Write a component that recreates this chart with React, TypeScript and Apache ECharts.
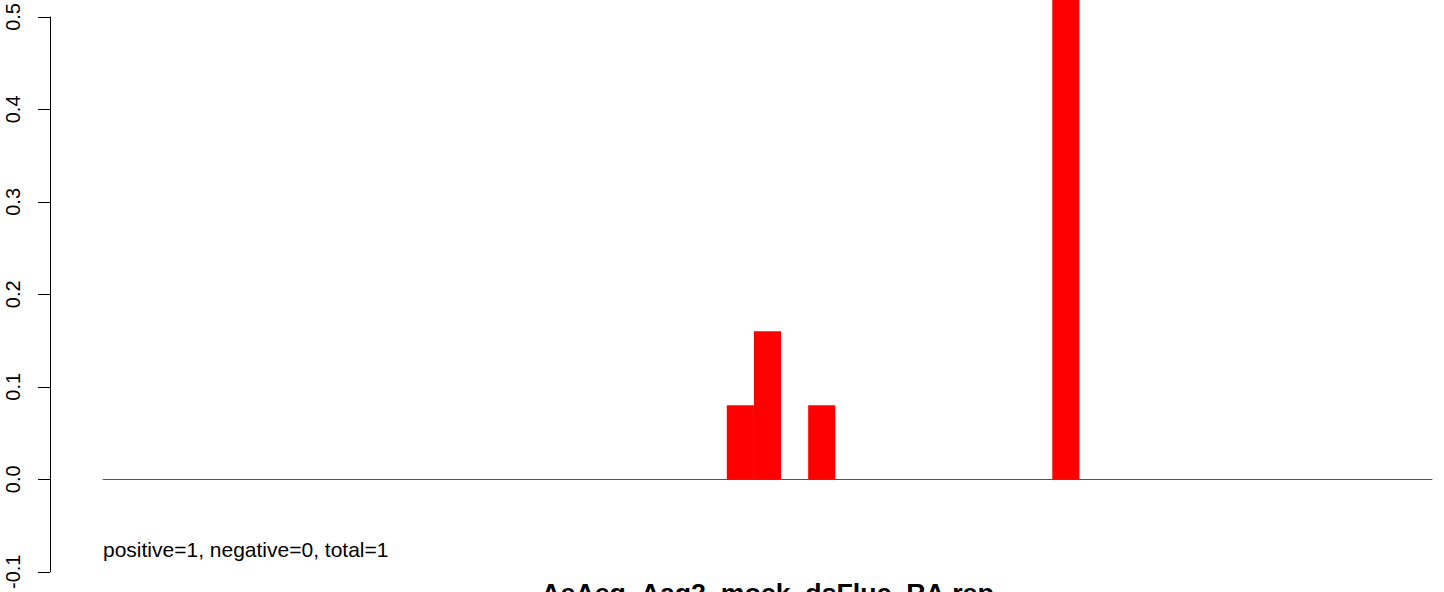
import React, { useEffect, useRef } from "react";
import * as echarts from "echarts";

const categories: string[] = [
  "1", "2", "3", "4", "5", "6", "7", "8", "9", "10",
  "11", "12", "13", "14", "15", "16", "17", "18", "19", "20",
  "21", "22", "23", "24", "25", "26", "27", "28", "29", "30",
  "31", "32", "33", "34", "35", "36", "37", "38", "39", "40",
  "41", "42", "43", "44", "45", "46", "47", "48", "49",
];

const values: number[] = [
  0, 0, 0, 0, 0, 0, 0, 0, 0, 0,
  0, 0, 0, 0, 0, 0, 0, 0, 0, 0,
  0, 0, 0, 0.08, 0.16, 0, 0.08, 0, 0, 0,
  0, 0, 0, 0, 0, 0.68, 0, 0, 0, 0,
  0, 0, 0, 0, 0, 0, 0, 0, 0,
];

const yTicks: number[] = [-0.1, 0, 0.1, 0.2, 0.3, 0.4, 0.5];

const countsText = "positive=1, negative=0, total=1";
const titleText = "AeAeg_Aag2_mock_dsFluc_RA.rep";

const FONT = "'Liberation Sans', Arial, Helvetica, sans-serif";

export default function App() {
  const ref = useRef<HTMLDivElement>(null);

  useEffect(() => {
    if (!ref.current) return;
    const chart = echarts.init(ref.current, null, { renderer: "svg" });
    const gridLeft = 103;
    const gridTop = 14.3;
    const gridHeight = 560.4;
    chart.setOption({
      animation: false,
      backgroundColor: "#ffffff",
      grid: { left: gridLeft, top: gridTop, width: 1329, height: gridHeight, containLabel: false },
      xAxis: {
        type: "category",
        data: categories,
        boundaryGap: true,
        axisLine: { show: true, onZero: true, lineStyle: { color: "#555555", width: 1 } },
        axisTick: { show: false },
        axisLabel: { show: false },
        splitLine: { show: false },
      },
      yAxis: {
        type: "value",
        min: yTicks[0],
        max: yTicks[yTicks.length - 1],
        interval: 0.1,
        offset: 53,
        axisLine: { show: true, lineStyle: { color: "#000000", width: 1 } },
        axisTick: { show: true, length: 12, lineStyle: { color: "#000000", width: 1 } },
        axisLabel: {
          show: true,
          rotate: 90,
          margin: 27,
          fontSize: 20,
          fontFamily: FONT,
          color: "#000000",
          formatter: (v: number) => v.toFixed(1),
        },
        splitLine: { show: false },
      },
      series: [
        {
          type: "bar",
          data: values,
          barCategoryGap: "0%",
          clip: false,
          itemStyle: { color: "#ff0000" },
          emphasis: { disabled: true },
          silent: true,
        },
      ],
      graphic: [
        {
          type: "text",
          x: 103,
          y: 549,
          style: {
            text: countsText,
            font: `21px ${FONT}`,
            fill: "#000000",
            align: "left",
            verticalAlign: "middle",
          },
        },
        {
          type: "text",
          x: 767.5,
          y: 579,
          style: {
            text: titleText,
            font: `bold 26.7px ${FONT}`,
            fill: "#000000",
            align: "center",
            verticalAlign: "top",
          },
        },
      ],
    });
    return () => chart.dispose();
  }, []);

  return (
    <div
      ref={ref}
      style={{ position: "absolute", left: 0, top: 0, width: 1444, height: 592, background: "#fff" }}
    />
  );
}
